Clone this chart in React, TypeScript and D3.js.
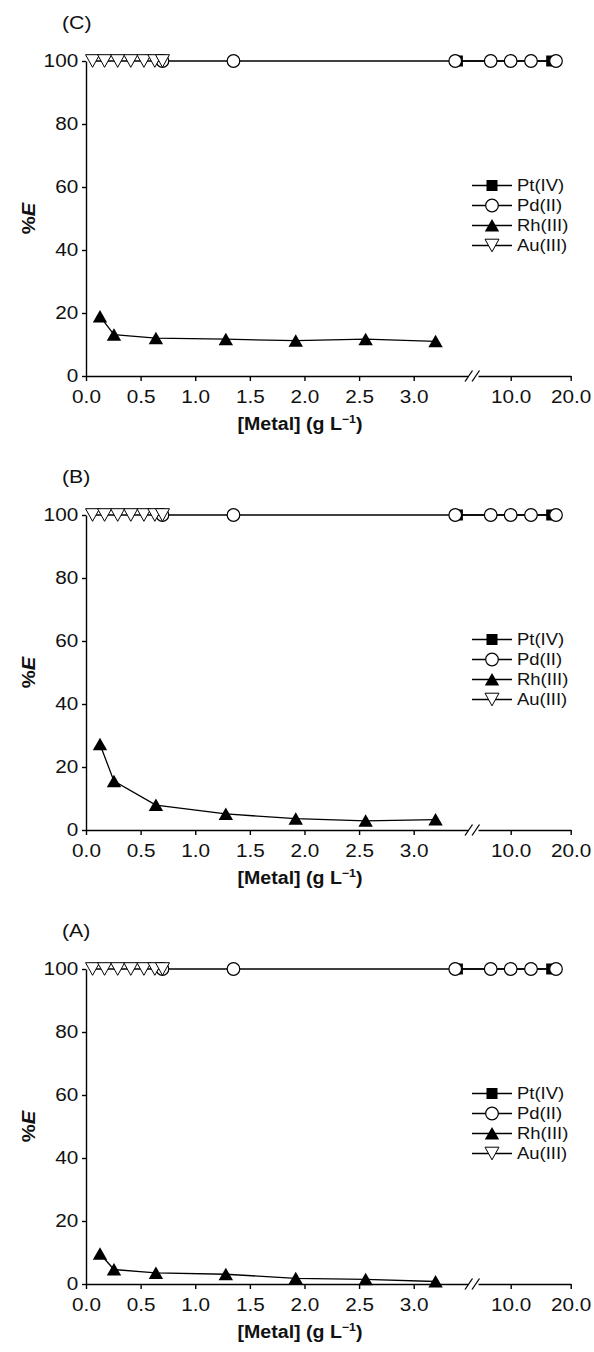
import React, { useEffect, useRef } from 'react';
import * as d3 from 'd3';

// panel labels, top to bottom
const panelNames = ['(C)', '(B)', '(A)'];

// Rh(III) extraction, one array per panel
const rhConc = [0.128, 0.256, 0.64, 1.28, 1.92, 2.56, 3.2];
const rhC = [18.9, 13.1, 12.0, 11.7, 11.2, 11.7, 11.0];
const rhB = [27.2, 15.5, 7.9, 5.1, 3.6, 2.9, 3.3];
const rhA = [9.6, 4.6, 3.5, 3.1, 1.8, 1.5, 0.8];
const rhByPanel = [rhC, rhB, rhA];

// the others stay at ~100 %
const ptConc = [3.4, 16.83];
const ptE = [100, 100];
const pdConc = [0.7, 1.35, 3.38, 6.67, 10.0, 13.38, 17.55];
const pdE = [100, 100, 100, 100, 100, 100, 100];
const auConc = [0.06, 0.17, 0.29, 0.41, 0.53, 0.63, 0.7];
const auE = [100, 100, 100, 100, 100, 100, 100];

const yTicks = [0, 20, 40, 60, 80, 100];
const xTicksLow = [0, 0.5, 1, 1.5, 2, 2.5, 3];
const xTicksHigh = [10, 20];
const legendNames = ['Pt(IV)', 'Pd(II)', 'Rh(III)', 'Au(III)'];

const FONT = '"Liberation Sans", Arial, sans-serif';
const SX = 1.12; // the original type is a bit wider than Arial

function marker(g: any, kind: string, x: number, y: number) {
  if (kind === 'square') {
    g.append('rect').attr('x', x - 5.5).attr('y', y - 5.5).attr('width', 11).attr('height', 11)
      .attr('fill', '#000');
  } else if (kind === 'circle') {
    g.append('circle').attr('cx', x).attr('cy', y).attr('r', 6.3)
      .attr('fill', '#fff').attr('stroke', '#000').attr('stroke-width', 1.2);
  } else if (kind === 'triUp') {
    g.append('path').attr('d', `M${x},${y - 6.5}L${x + 7.2},${y + 6}L${x - 7.2},${y + 6}Z`)
      .attr('fill', '#000');
  } else {
    g.append('path').attr('d', `M${x - 7},${y - 6.3}L${x + 7},${y - 6.3}L${x},${y + 6.3}Z`)
      .attr('fill', '#fff').attr('stroke', '#000').attr('stroke-width', 1);
  }
}

export default function App() {
  const ref = useRef<SVGSVGElement>(null);

  useEffect(() => {
    const svg = d3.select(ref.current);
    svg.selectAll('*').remove();

    const y = d3.scaleLinear().domain([0, 100]).range([376, 61]);
    const xl = d3.scaleLinear().domain([0, 3.497]).range([86, 468]);
    const xr = d3.scaleLinear().domain([4.55, 20]).range([478, 570.7]);
    const xPos = (v: number) => (v <= 3.497 ? xl(v) : xr(v));

    const line = d3.line<[number, number]>().x(d => xPos(d[0])).y(d => y(d[1]));

    panelNames.forEach((name, i) => {
      const g = svg.append('g').attr('transform', `translate(0,${i * 454})`);

      const series = [
        { kind: 'square', xs: ptConc, ys: ptE },
        { kind: 'circle', xs: pdConc, ys: pdE },
        { kind: 'triUp', xs: rhConc, ys: rhByPanel[i] },
        { kind: 'triDown', xs: auConc, ys: auE },
      ];

      // axes
      const yAxis = g.append('g').attr('transform', 'translate(86,0)')
        .call(d3.axisLeft(y).tickValues(yTicks).tickSize(4).tickSizeOuter(0).tickPadding(3).tickFormat(d3.format('d')));
      const xAxisL = g.append('g').attr('transform', 'translate(0,376)')
        .call(d3.axisBottom(xl).tickValues(xTicksLow).tickSize(5).tickSizeOuter(0).tickPadding(9).tickFormat(d3.format('.1f')));
      const xAxisR = g.append('g').attr('transform', 'translate(0,376)')
        .call(d3.axisBottom(xr).tickValues(xTicksHigh).tickSize(5).tickSizeOuter(0).tickPadding(9).tickFormat(d3.format('.1f')));
      [yAxis, xAxisL, xAxisR].forEach(a => {
        a.selectAll('path,line').attr('stroke', '#000').attr('stroke-width', 1.4);
        a.selectAll('text').attr('font-family', FONT).attr('font-size', 18.5).attr('fill', '#111')
          .attr('transform', `scale(${SX},1)`);
      });

      // axis break
      [465, 472].forEach(bx => {
        g.append('line').attr('x1', bx).attr('y1', 381.5).attr('x2', bx + 7.5).attr('y2', 370.5)
          .attr('stroke', '#000').attr('stroke-width', 1.3);
      });

      // data
      series.forEach(s => {
        const pts = s.xs.map((v, k) => [v, s.ys[k]] as [number, number]);
        g.append('path').attr('d', line(pts)).attr('fill', 'none').attr('stroke', '#000').attr('stroke-width', 1.3);
        pts.forEach(p => marker(g, s.kind, xPos(p[0]), y(p[1])));
      });

      // legend
      series.forEach((s, k) => {
        const ly = 185.5 + k * 20;
        g.append('line').attr('x1', 472).attr('x2', 512).attr('y1', ly).attr('y2', ly)
          .attr('stroke', '#000').attr('stroke-width', 1.3);
        marker(g, s.kind, 492, ly);
        g.append('text').attr('transform', `translate(517,${ly}) scale(${SX},1)`).attr('dy', '0.36em')
          .attr('font-family', FONT).attr('font-size', 16.5).attr('fill', '#111').text(legendNames[k]);
      });

      // titles
      g.append('text').attr('transform', `translate(62,29) scale(${SX},1)`)
        .attr('font-family', FONT).attr('font-size', 19).attr('fill', '#111').text(name);

      const yt = g.append('text').attr('transform', `translate(35,218.5) rotate(-90) scale(${SX},1)`)
        .attr('text-anchor', 'middle').attr('font-family', FONT).attr('font-size', 18)
        .attr('font-weight', 'bold').attr('fill', '#111');
      yt.append('tspan').text('%');
      yt.append('tspan').attr('font-style', 'italic').text('E');

      const xt = g.append('text').attr('transform', `translate(300,430) scale(${SX},1)`)
        .attr('text-anchor', 'middle').attr('font-family', FONT).attr('font-size', 17.5)
        .attr('font-weight', 'bold').attr('fill', '#111');
      xt.append('tspan').text('[Metal] (g L');
      xt.append('tspan').attr('font-size', 11).attr('dy', -7).text('\u22121');
      xt.append('tspan').attr('dy', 7).text(')');
    });
  }, []);

  return (
    <svg ref={ref} width={594} height={1352}
      style={{ position: 'absolute', left: 0, top: 0, background: '#fff' }} />
  );
}
